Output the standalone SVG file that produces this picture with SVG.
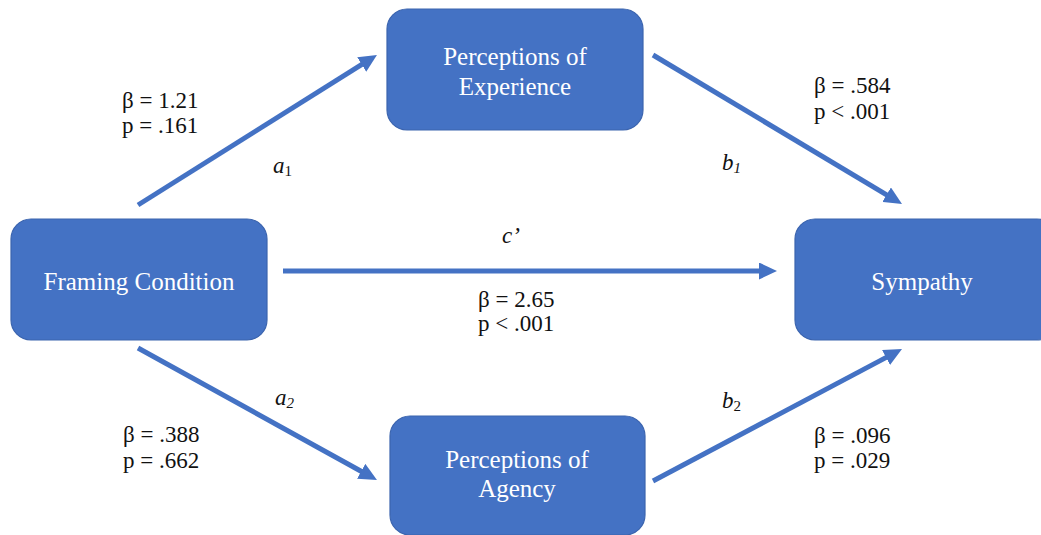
<svg xmlns="http://www.w3.org/2000/svg" width="1041" height="535" viewBox="0 0 1041 535">
<style>
.box{fill:#4472C4;stroke:#3B64AE;stroke-width:1.2}
.nt{font-family:"Liberation Serif","Times New Roman",serif;font-size:25px;fill:#FFFFFF;text-anchor:middle}
.lb{font-family:"Liberation Serif","Times New Roman",serif;font-size:23px;fill:#111111}
.it{font-style:italic}
.sub{font-size:15px}
.edge{stroke:#4472C4;stroke-width:5;fill:none;marker-end:url(#ah)}
</style>
<defs>
<marker id="ah" viewBox="0 0 18 17" markerUnits="userSpaceOnUse" markerWidth="18" markerHeight="17" refX="4" refY="8.5" orient="auto">
<path d="M0,0 L18,8.5 L0,17 z" fill="#4472C4"/>
</marker>
</defs>
<rect width="1041" height="535" fill="#FFFFFF"/>
<g id="connectors">
<line class="edge" x1="138" y1="205" x2="365.1" y2="62.4"/>
<line class="edge" x1="653" y1="55" x2="890" y2="196.8"/>
<line class="edge" x1="283" y1="271" x2="763" y2="271"/>
<line class="edge" x1="138" y1="348" x2="364.7" y2="473.2"/>
<line class="edge" x1="653" y1="481" x2="889.6" y2="355.6"/>
</g>
<g id="node-experience">
<rect class="box" x="387" y="9" width="256" height="121" rx="20"/>
<text class="nt" x="515" y="65">Perceptions of</text>
<text class="nt" x="515" y="95">Experience</text>
</g>
<g id="node-framing">
<rect class="box" x="11" y="219" width="256" height="121" rx="20"/>
<text class="nt" x="139" y="290">Framing Condition</text>
</g>
<g id="node-sympathy">
<rect class="box" x="795" y="219" width="262" height="121" rx="20"/>
<text class="nt" x="922" y="290">Sympathy</text>
</g>
<g id="node-agency">
<rect class="box" x="390" y="416" width="255" height="119" rx="20"/>
<text class="nt" x="517" y="468">Perceptions of</text>
<text class="nt" x="517" y="497">Agency</text>
</g>
<g id="labels">
<text class="lb" x="122" y="108">β = 1.21</text>
<text class="lb" x="122" y="133">p = .161</text>
<text class="lb it" x="273" y="173">a<tspan class="sub" font-style="normal" dy="3">1</tspan></text>
<text class="lb" x="814" y="93">β = .584</text>
<text class="lb" x="814" y="119">p &lt; .001</text>
<text class="lb it" x="722" y="170">b<tspan class="sub" dy="3">1</tspan></text>
<text class="lb it" x="502" y="243">c’</text>
<text class="lb" x="478" y="307">β = 2.65</text>
<text class="lb" x="478" y="331">p &lt; .001</text>
<text class="lb" x="123" y="442">β = .388</text>
<text class="lb" x="123" y="468">p = .662</text>
<text class="lb it" x="275" y="405">a<tspan class="sub" dy="3">2</tspan></text>
<text class="lb it" x="722" y="408">b<tspan class="sub" font-style="normal" dy="3">2</tspan></text>
<text class="lb" x="814" y="443">β = .096</text>
<text class="lb" x="814" y="468">p = .029</text>
</g>
</svg>
